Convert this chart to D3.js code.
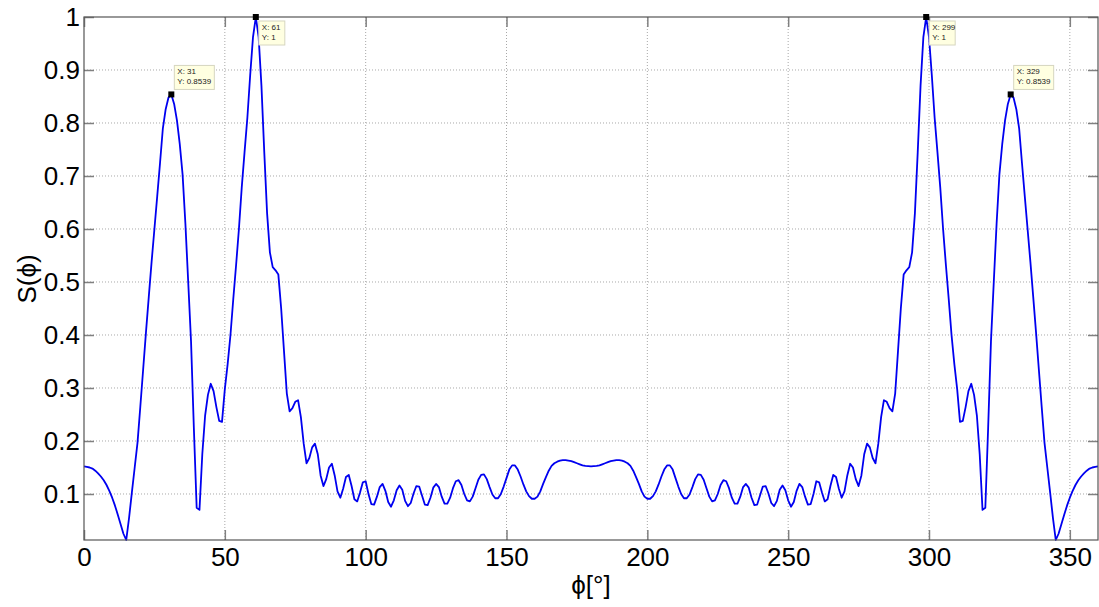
<!DOCTYPE html>
<html>
  <head>
    <meta charset="UTF-8" />
    <title>S(phi)</title>
    <script src="https://d3js.org/d3.v7.min.js"></script>
    <style>
      body {
        margin: 0;
        background: #fff;
      }
      text {
        font-family: 'Liberation Sans', Arial, sans-serif;
      }
    </style>
  </head>

  <body>
    <div id="main"></div>
    <script type="text/javascript">
      const width = 1099;
      const height = 607;

      // S(phi) sampled every degree, 0..180
      const sLeft = [
        0.152, 0.151, 0.150, 0.148, 0.144, 0.139, 0.133, 0.126, 0.117, 0.106,
        0.093, 0.078, 0.061, 0.043, 0.025, 0.0132, 0.055, 0.103, 0.150, 0.197,
        0.265, 0.335, 0.405, 0.472, 0.538, 0.600, 0.662, 0.725, 0.790, 0.826,
        0.848, 0.8539, 0.836, 0.805, 0.760, 0.703, 0.610, 0.500, 0.388, 0.225,
        0.074, 0.070, 0.175, 0.248, 0.287, 0.308, 0.294, 0.264, 0.238, 0.236,
        0.298, 0.345, 0.400, 0.468, 0.532, 0.600, 0.678, 0.745, 0.810, 0.890,
        0.962, 1.000, 0.962, 0.870, 0.745, 0.630, 0.556, 0.528, 0.522, 0.514,
        0.450, 0.370, 0.290, 0.256, 0.262, 0.274, 0.277, 0.245, 0.195, 0.158,
        0.168, 0.188, 0.195, 0.175, 0.135, 0.115, 0.128, 0.150, 0.157, 0.135,
        0.105, 0.093, 0.110, 0.132, 0.136, 0.115, 0.090, 0.086, 0.103, 0.122,
        0.124, 0.100, 0.081, 0.080, 0.095, 0.113, 0.119, 0.106, 0.085, 0.076,
        0.088, 0.107, 0.116, 0.108, 0.087, 0.077, 0.083, 0.101, 0.115, 0.114,
        0.097, 0.080, 0.079, 0.093, 0.112, 0.119, 0.113, 0.095, 0.082, 0.082,
        0.093, 0.111, 0.124, 0.126, 0.117, 0.100, 0.088, 0.086, 0.095, 0.111,
        0.127, 0.136, 0.137, 0.128, 0.113, 0.099, 0.092, 0.092, 0.100, 0.114,
        0.130, 0.146, 0.154, 0.154, 0.146, 0.133, 0.118, 0.105, 0.096, 0.091,
        0.091, 0.095, 0.105, 0.119, 0.132, 0.144, 0.153, 0.158, 0.161, 0.163,
        0.164, 0.164, 0.163, 0.162, 0.160, 0.158, 0.156, 0.154, 0.153, 0.1525,
        0.152
      ];

      // S(phi) for 181..360
      const sRight = [
        0.1525, 0.153, 0.154, 0.156, 0.158, 0.160, 0.162, 0.163, 0.164, 0.164,
        0.163, 0.161, 0.158, 0.153, 0.144, 0.132, 0.119, 0.105, 0.095, 0.091,
        0.091, 0.096, 0.105, 0.118, 0.133, 0.146, 0.154, 0.154, 0.146, 0.130,
        0.114, 0.100, 0.092, 0.092, 0.099, 0.113, 0.128, 0.137, 0.136, 0.127,
        0.111, 0.095, 0.086, 0.088, 0.100, 0.117, 0.126, 0.124, 0.111, 0.093,
        0.082, 0.082, 0.095, 0.113, 0.119, 0.112, 0.093, 0.079, 0.080, 0.097,
        0.114, 0.115, 0.101, 0.083, 0.077, 0.087, 0.108, 0.116, 0.107, 0.088,
        0.076, 0.085, 0.106, 0.119, 0.113, 0.095, 0.080, 0.081, 0.100, 0.124,
        0.122, 0.103, 0.086, 0.090, 0.115, 0.136, 0.132, 0.110, 0.093, 0.105,
        0.135, 0.157, 0.150, 0.128, 0.115, 0.135, 0.175, 0.195, 0.188, 0.168,
        0.158, 0.195, 0.245, 0.277, 0.274, 0.262, 0.256, 0.290, 0.370, 0.450,
        0.514, 0.522, 0.528, 0.556, 0.630, 0.745, 0.870, 0.962, 1.000, 0.962,
        0.890, 0.810, 0.745, 0.678, 0.600, 0.532, 0.468, 0.400, 0.345, 0.298,
        0.236, 0.238, 0.264, 0.294, 0.308, 0.287, 0.248, 0.175, 0.070, 0.074,
        0.225, 0.388, 0.500, 0.610, 0.703, 0.760, 0.805, 0.836, 0.8539, 0.848,
        0.826, 0.790, 0.725, 0.662, 0.600, 0.538, 0.472, 0.405, 0.335, 0.265,
        0.197, 0.150, 0.103, 0.055, 0.0132, 0.025, 0.043, 0.061, 0.078, 0.093,
        0.106, 0.117, 0.126, 0.133, 0.139, 0.144, 0.148, 0.150, 0.151, 0.152
      ];

      const xTicks = [0, 50, 100, 150, 200, 250, 300, 350];
      const yTicks = [0.1, 0.2, 0.3, 0.4, 0.5, 0.6, 0.7, 0.8, 0.9, 1];

      // data tips
      const tipX = [31, 61, 299, 329];
      const tipY = [0.8539, 1, 1, 0.8539];
      const tipLabelY = ['0.8539', '1', '1', '0.8539'];

      const values = sLeft.concat(sRight);
      const data = values.map((v, i) => ({ phi: i, s: v }));

      const margin = { top: 17, right: 1, left: 84, bottom: 67 };

      const x = d3
        .scaleLinear()
        .domain([0, 360])
        .range([margin.left, width - margin.right]);

      const y = d3
        .scaleLinear()
        .domain([d3.min(values), d3.max(values)])
        .range([height - margin.bottom, margin.top]);

      const svg = d3
        .select('div#main')
        .append('svg')
        .attr('width', width)
        .attr('height', height);

      const x0 = x.range()[0];
      const x1 = x.range()[1];
      const y0 = y.range()[0];
      const y1 = y.range()[1];

      // grid
      svg
        .append('g')
        .selectAll('line')
        .data(xTicks.filter((d) => d > 0))
        .join('line')
        .attr('x1', (d) => x(d))
        .attr('x2', (d) => x(d))
        .attr('y1', y0)
        .attr('y2', y1)
        .attr('stroke', '#a8a8a8')
        .attr('stroke-dasharray', '1,2');

      svg
        .append('g')
        .selectAll('line')
        .data(yTicks.filter((d) => d < 1))
        .join('line')
        .attr('x1', x0)
        .attr('x2', x1)
        .attr('y1', (d) => y(d))
        .attr('y2', (d) => y(d))
        .attr('stroke', '#a8a8a8')
        .attr('stroke-dasharray', '1,2');

      // axes with inward ticks on all four sides
      const tickLen = 10;
      const axisStyle = (g) => {
        g.select('.domain').remove();
        g.selectAll('.tick line').attr('stroke', '#808080').attr('stroke-width', 1.5);
        g.selectAll('.tick text')
          .attr('fill', '#000')
          .style('font-size', '26px');
      };

      svg
        .append('g')
        .attr('transform', `translate(0,${y0})`)
        .call(
          d3.axisBottom(x).tickValues(xTicks).tickSize(-tickLen).tickPadding(8).tickFormat(d3.format('d'))
        )
        .call(axisStyle);

      svg
        .append('g')
        .attr('transform', `translate(0,${y1})`)
        .call(d3.axisTop(x).tickValues(xTicks).tickSize(-tickLen).tickFormat(''))
        .call(axisStyle);

      svg
        .append('g')
        .attr('transform', `translate(${x0},0)`)
        .call(
          d3.axisLeft(y).tickValues(yTicks).tickSize(-tickLen).tickPadding(4).tickFormat(d3.format('~g'))
        )
        .call(axisStyle);

      svg
        .append('g')
        .attr('transform', `translate(${x1},0)`)
        .call(d3.axisRight(y).tickValues(yTicks).tickSize(-tickLen).tickFormat(''))
        .call(axisStyle);

      // curve
      const line = d3
        .line()
        .x((d) => x(d.phi))
        .y((d) => y(d.s));

      svg
        .append('path')
        .datum(data)
        .attr('d', line)
        .attr('fill', 'none')
        .attr('stroke', '#0000f0')
        .attr('stroke-width', 1.8)
        .attr('stroke-linejoin', 'round');

      // box
      svg
        .append('rect')
        .attr('x', x0)
        .attr('y', y1)
        .attr('width', x1 - x0)
        .attr('height', y0 - y1)
        .attr('fill', 'none')
        .attr('stroke', '#555')
        .attr('stroke-width', 1.2);

      // data tips
      const tips = svg
        .append('g')
        .selectAll('g')
        .data(tipX.map((d, i) => ({ x: d, y: tipY[i], label: tipLabelY[i] })))
        .join('g')
        .attr('transform', (d) => `translate(${x(d.x)},${y(d.y)})`);

      tips
        .append('rect')
        .attr('x', 3)
        .attr('y', (d) => (d.y >= 1 ? 4 : -29))
        .attr('width', (d) => (d.label.length > 2 ? 40 : 26))
        .attr('height', 24)
        .attr('fill', '#ffffe1')
        .attr('stroke', '#d6d6c0');

      tips
        .append('text')
        .attr('x', 6)
        .attr('y', (d) => (d.y >= 1 ? 13 : -20))
        .style('font-size', '8px')
        .attr('fill', '#222')
        .text((d) => `X: ${d.x}`);

      tips
        .append('text')
        .attr('x', 6)
        .attr('y', (d) => (d.y >= 1 ? 23 : -10))
        .style('font-size', '8px')
        .attr('fill', '#222')
        .text((d) => `Y: ${d.label}`);

      tips
        .append('rect')
        .attr('x', -3)
        .attr('y', -3)
        .attr('width', 6)
        .attr('height', 6)
        .attr('fill', '#000');

      // labels
      svg
        .append('text')
        .attr('x', (x0 + x1) / 2)
        .attr('y', 594)
        .attr('text-anchor', 'middle')
        .style('font-size', '26px')
        .text('ϕ[°]');

      svg
        .append('text')
        .attr('transform', `translate(36,279) rotate(-90)`)
        .attr('text-anchor', 'middle')
        .style('font-size', '26px')
        .text('S(ϕ)');
    </script>
  </body>
</html>
